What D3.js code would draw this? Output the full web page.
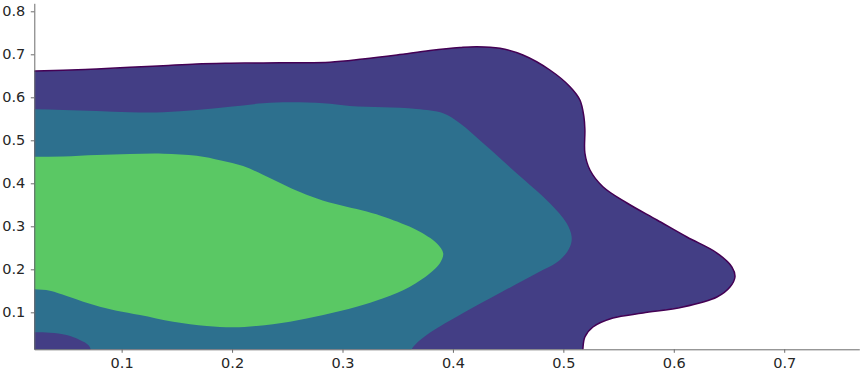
<!DOCTYPE html>
<html>
<head>
<meta charset="utf-8">
<script src="https://cdn.jsdelivr.net/npm/d3@7"></script>
<style>
  html, body { margin: 0; padding: 0; background: #ffffff; }
  svg { display: block; }
</style>
</head>
<body>
<svg id="chart" width="862" height="375"></svg>
<script>
// ---- data ----
const xLimits = [0.0209, 0.768];
const yLimits = [0.014, 0.8186];
const xTicks = [0.1, 0.2, 0.3, 0.4, 0.5, 0.6, 0.7];
const yTicks = [0.1, 0.2, 0.3, 0.4, 0.5, 0.6, 0.7, 0.8];

// level 1 (outermost) contour boundary
const outerEdge = [
  [0.000, 0.660], [0.0215, 0.661], [0.0471, 0.6628], [0.0774, 0.6658], [0.1075, 0.6698],
  [0.1377, 0.6735], [0.1679, 0.6774], [0.1981, 0.6791], [0.2282, 0.6800], [0.2585, 0.6803],
  [0.2886, 0.6816], [0.3185, 0.6890], [0.3493, 0.6984], [0.3792, 0.7086], [0.4064, 0.7156],
  [0.4217, 0.7177], [0.4426, 0.7140], [0.4634, 0.6984], [0.4878, 0.6635], [0.5060, 0.6247],
  [0.5150, 0.5937], [0.5186, 0.5549], [0.5195, 0.5240], [0.5195, 0.4705], [0.5241, 0.4309],
  [0.5358, 0.3921], [0.5576, 0.3542], [0.5848, 0.3147], [0.6119, 0.2751], [0.6391, 0.2379],
  [0.6527, 0.2053], [0.6554, 0.1821], [0.6509, 0.1588], [0.6391, 0.1356], [0.6083, 0.1123],
  [0.5721, 0.0984], [0.5449, 0.0867], [0.5268, 0.0658], [0.5195, 0.0426], [0.5177, 0.0147],
  [0.5177, -0.010]
];
const outerTail = [[0.5177, -0.03], [-0.01, -0.03], [-0.01, 0.660]];

// level 2 contour boundary
const midEdge = [
  [0.000, 0.5725], [0.0215, 0.5721], [0.0471, 0.5705], [0.0774, 0.5681], [0.1075, 0.5651],
  [0.1377, 0.5651], [0.1679, 0.5705], [0.1981, 0.5781], [0.2282, 0.5860], [0.2524, 0.5884],
  [0.2826, 0.5860], [0.3067, 0.5798], [0.3369, 0.5767], [0.3671, 0.5728], [0.3912, 0.5628],
  [0.4063, 0.5395], [0.4274, 0.4930], [0.4577, 0.4233], [0.4878, 0.3535], [0.5030, 0.3070],
  [0.5075, 0.2758], [0.5060, 0.2526], [0.4969, 0.2216], [0.4758, 0.1907], [0.4362, 0.1363],
  [0.4034, 0.0898], [0.3762, 0.0472], [0.3626, 0.0140], [0.3610, -0.010]
];
const midTail = [[0.3610, -0.03], [-0.01, -0.03], [-0.01, 0.5725]];

// level 3 (innermost) contour boundary
const innerEdge = [
  [0.000, 0.4619], [0.0215, 0.4619], [0.0471, 0.4625], [0.0774, 0.4658], [0.1075, 0.4681],
  [0.1377, 0.4688], [0.1679, 0.4640], [0.1900, 0.4530], [0.2100, 0.4400], [0.2280, 0.4200],
  [0.2450, 0.3990], [0.2620, 0.3790], [0.2820, 0.3600], [0.3037, 0.3456], [0.3219, 0.3345],
  [0.3400, 0.3200], [0.3671, 0.2914], [0.3853, 0.2605], [0.3912, 0.2372],
  [0.3882, 0.2140], [0.3792, 0.1907], [0.3611, 0.1595], [0.3369, 0.1326], [0.3128, 0.1130],
  [0.2826, 0.0937], [0.2524, 0.0781], [0.2222, 0.0681], [0.2011, 0.0651], [0.1770, 0.0681],
  [0.1467, 0.0781], [0.1166, 0.0937], [0.0955, 0.1037], [0.0803, 0.1130], [0.0652, 0.1247],
  [0.0502, 0.1379], [0.0351, 0.1502], [0.0209, 0.1535], [0.000, 0.1545]
];
const innerTail = [[-0.01, 0.1545], [-0.01, 0.4619]];

// low-density pocket near the origin (level 1 region inside level 2)
const pocketEdge = [
  [0.000, 0.0540], [0.0209, 0.0535], [0.0351, 0.0526], [0.0502, 0.0472], [0.0622, 0.0356],
  [0.0698, 0.0240], [0.0719, 0.0140], [0.0722, -0.010]
];
const pocketTail = [[0.0722, -0.03], [-0.01, -0.03], [-0.01, 0.0540]];

const levelColors = ["#433e85", "#2d708e", "#5ac864"];
const outlineColor = "#440154";

// ---- layout ----
const W = 862, H = 375;
const margin = { left: 34.3, right: 2.7, top: 3.3, bottom: 25.7 };

const svg = d3.select("#chart");
const x = d3.scaleLinear().domain(xLimits).range([margin.left, W - margin.right]);
const y = d3.scaleLinear().domain(yLimits).range([H - margin.bottom, margin.top]);

svg.append("defs").append("clipPath").attr("id", "plotclip")
  .append("rect")
  .attr("x", x(xLimits[0])).attr("y", y(yLimits[1]))
  .attr("width", x(xLimits[1]) - x(xLimits[0]))
  .attr("height", y(yLimits[0]) - y(yLimits[1]));

const smooth = d3.line().x(d => x(d[0])).y(d => y(d[1])).curve(d3.curveCatmullRom.alpha(0.5));
function regionPath(edge, tail) {
  return smooth(edge) + tail.map(p => "L" + x(p[0]) + "," + y(p[1])).join("") + "Z";
}

const g = svg.append("g").attr("clip-path", "url(#plotclip)");
g.append("path").attr("d", regionPath(outerEdge, outerTail)).attr("fill", levelColors[0]);
g.append("path").attr("d", regionPath(midEdge, midTail)).attr("fill", levelColors[1]);
g.append("path").attr("d", regionPath(innerEdge, innerTail)).attr("fill", levelColors[2]);
g.append("path").attr("d", regionPath(pocketEdge, pocketTail)).attr("fill", levelColors[0]);
g.append("path").attr("d", smooth(outerEdge)).attr("fill", "none")
  .attr("stroke", outlineColor).attr("stroke-width", 1.5);

// ---- axes ----
const xAxis = d3.axisBottom(x).tickValues(xTicks).tickFormat(d3.format(".1f"))
  .tickSizeInner(3.5).tickSizeOuter(0).tickPadding(4.5);
const yAxis = d3.axisLeft(y).tickValues(yTicks).tickFormat(d3.format(".1f"))
  .tickSizeInner(3.5).tickSizeOuter(0).tickPadding(5.5);

const gx = svg.append("g").attr("transform", `translate(0,${H - margin.bottom})`).call(xAxis);
const gy = svg.append("g").attr("transform", `translate(${margin.left},0)`).call(yAxis);
[gx, gy].forEach(a => {
  a.attr("font-family", null).attr("font-size", null);
  a.select(".domain").attr("stroke", "#6b6b6b").attr("stroke-width", 1);
  a.selectAll(".tick line").attr("stroke", "#6b6b6b");
  a.selectAll(".tick text")
    .style("fill", "#262626")
    .style("font-family", "'DejaVu Sans', sans-serif")
    .style("font-size", "14.5px");
});
</script>
</body>
</html>
